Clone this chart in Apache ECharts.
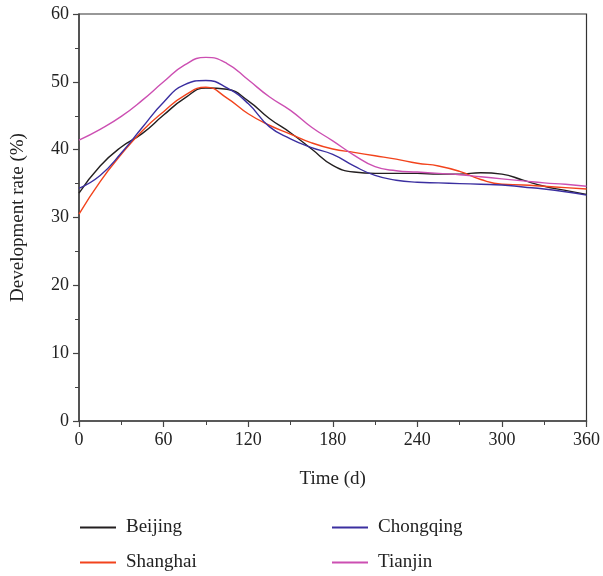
<!DOCTYPE html>
<html><head><meta charset="utf-8">
<script src="https://cdn.jsdelivr.net/npm/echarts@6/dist/echarts.min.js"></script>
<style>html,body{margin:0;padding:0;background:#fff}#c{width:603px;height:576px}</style>
</head><body><div id="c"></div>
<script>
const days = [0,15,30,45,60,75,90,105,120,135,150,165,180,195,210,225,240,255,270,285,300,315,330,345,360];
const beijing   = [33.6,37.6,40.4,42.4,45.1,47.6,49.1,48.9,47.2,44.6,42.5,40.1,37.7,36.7,36.5,36.5,36.5,36.4,36.4,36.6,36.4,35.5,34.6,34.0,33.4];
const shanghai  = [30.5,35.3,39.3,42.8,45.6,48.0,49.2,47.6,45.3,43.6,42.3,41.0,40.1,39.6,39.1,38.6,38.0,37.6,36.8,35.6,34.9,34.8,34.6,34.4,34.2];
const chongqing = [34.3,36.2,39.5,43.3,47.0,49.6,50.2,49.1,46.8,43.4,41.6,40.3,39.3,37.6,36.2,35.5,35.2,35.1,35.0,34.9,34.8,34.5,34.2,33.8,33.3];
const tianjin   = [41.4,43.0,44.9,47.3,50.0,52.5,53.6,52.7,50.3,47.8,45.8,43.3,41.3,39.2,37.5,36.9,36.7,36.5,36.3,36.0,35.7,35.4,35.1,34.9,34.6];
const names = ['Beijing','Shanghai','Chongqing','Tianjin'];
const colors = ['#231f20','#f2431c','#3b2fa0','#cc4fb2'];
const font = 'Liberation Serif';
const all = [beijing, shanghai, chongqing, tianjin];
const legendCommon = {orient:'vertical',top:518,height:70,padding:0,itemWidth:36,itemHeight:2,itemGap:16,icon:'rect',
  textStyle:{fontFamily:font,fontSize:19,color:'#222',padding:[0,0,0,5]}};
const chart = echarts.init(document.getElementById('c'), null, {renderer:'canvas'});
chart.setOption({
  animation:false,
  backgroundColor:'#fff',
  textStyle:{fontFamily:font},
  grid:{left:79,right:15,top:14,bottom:155,show:true,borderColor:'#333',borderWidth:1.2,containLabel:false},
  xAxis:{type:'value',min:0,max:360,interval:60,
    name:'Time (d)',nameLocation:'middle',nameGap:49,
    nameTextStyle:{fontFamily:font,fontSize:19,color:'#222'},
    axisLine:{show:true,onZero:false,lineStyle:{color:'#444',width:1.5}},
    axisTick:{show:true,inside:false,length:6,lineStyle:{color:'#444',width:1.2}},
    minorTick:{show:true,splitNumber:2,length:4,lineStyle:{color:'#444',width:1}},
    axisLabel:{fontFamily:font,fontSize:18,color:'#222',margin:10},
    splitLine:{show:false}},
  yAxis:{type:'value',min:0,max:60,interval:10,
    name:'Development rate (%)',nameLocation:'middle',nameGap:51,nameRotate:90,
    nameTextStyle:{fontFamily:font,fontSize:19,color:'#222'},
    axisLine:{show:true,lineStyle:{color:'#444',width:1.5}},
    axisTick:{show:true,inside:false,length:6,lineStyle:{color:'#444',width:1.2}},
    minorTick:{show:true,splitNumber:2,length:4,lineStyle:{color:'#444',width:1}},
    axisLabel:{fontFamily:font,fontSize:18,color:'#222',margin:10},
    splitLine:{show:false}},
  legend:[
    Object.assign({data:['Beijing','Shanghai'],left:80}, legendCommon),
    Object.assign({data:['Chongqing','Tianjin'],left:332}, legendCommon)
  ],
  series: names.map((n,i)=>({
    name:n,type:'line',smooth:0.5,symbol:'none',
    itemStyle:{color:colors[i]},
    lineStyle:{color:colors[i],width:1.4},
    data: days.map((d,j)=>[d, all[i][j]])
  }))
});
</script></body></html>
